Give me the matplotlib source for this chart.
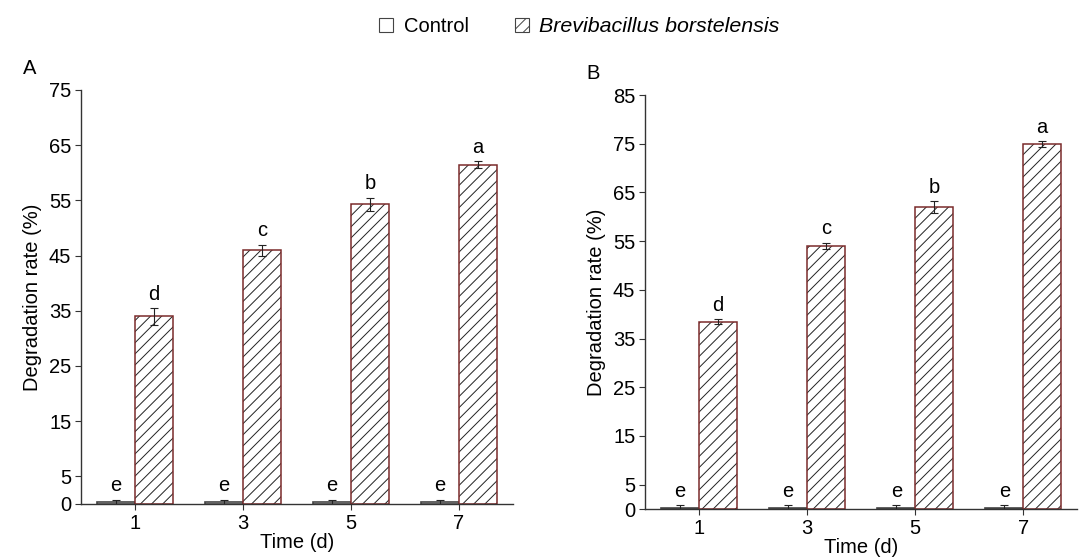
import matplotlib.pyplot as plt
import numpy as np
from matplotlib.patches import Patch

plt.rcParams['font.family'] = ['Liberation Sans', 'DejaVu Sans']
plt.rcParams['hatch.linewidth'] = 0.7

# data
days = ['1', '3', '5', '7']

control_a = [0.3, 0.3, 0.3, 0.3]
control_a_err = [0.5, 0.5, 0.5, 0.5]
treat_a = [34.0, 46.0, 54.3, 61.5]
treat_a_err = [1.5, 1.0, 1.2, 0.6]
letters_a_ctrl = ['e', 'e', 'e', 'e']
letters_a_treat = ['d', 'c', 'b', 'a']

control_b = [0.3, 0.3, 0.3, 0.3]
control_b_err = [0.5, 0.5, 0.5, 0.5]
treat_b = [38.5, 54.0, 62.0, 75.0]
treat_b_err = [0.5, 0.7, 1.2, 0.6]
letters_b_ctrl = ['e', 'e', 'e', 'e']
letters_b_treat = ['d', 'c', 'b', 'a']

yticks_a = [0, 5, 15, 25, 35, 45, 55, 65, 75]
yticks_b = [0, 5, 15, 25, 35, 45, 55, 65, 75, 85]

bar_red = '#7b2b2b'
axis_gray = '#333333'
width = 0.35
fs = 14.5


def draw_panel(ax, ctrl, ctrl_err, treat, treat_err, l_ctrl, l_treat, yticks, tag):
    x = np.arange(len(days))
    # control bars
    ax.bar(x - width / 2, ctrl, width, color='white', edgecolor='#444444', linewidth=1.2)
    # treatment bars: hatch in black, outline in dark red
    ax.bar(x + width / 2, treat, width, color='white', edgecolor='#222222', linewidth=0, hatch='///')
    ax.bar(x + width / 2, treat, width, fill=False, edgecolor=bar_red, linewidth=1.1)
    ax.errorbar(x - width / 2, ctrl, yerr=ctrl_err, fmt='none', ecolor='#222222', elinewidth=0.8, capsize=3, capthick=0.8)
    ax.errorbar(x + width / 2, treat, yerr=treat_err, fmt='none', ecolor='#222222', elinewidth=0.8, capsize=3, capthick=0.8)

    for xi, v, e, lab in zip(x - width / 2, ctrl, ctrl_err, l_ctrl):
        ax.annotate(lab, (xi, v + e), xytext=(0, 3), textcoords='offset points',
                    ha='center', va='bottom', fontsize=fs)
    for xi, v, e, lab in zip(x + width / 2, treat, treat_err, l_treat):
        ax.annotate(lab, (xi, v + e), xytext=(0, 3), textcoords='offset points',
                    ha='center', va='bottom', fontsize=fs)

    ax.set_xlim(-0.5, len(days) - 0.5)
    ax.set_ylim(0, yticks[-1])
    ax.set_xticks(x)
    ax.set_xticklabels(days)
    ax.set_yticks(yticks)
    ax.tick_params(labelsize=fs, length=4, width=0.8, color=axis_gray, pad=3)
    ax.set_xlabel('Time (d)', fontsize=fs, labelpad=0)
    ax.set_ylabel('Degradation rate (%)', fontsize=fs, labelpad=5)
    for side in ['top', 'right']:
        ax.spines[side].set_visible(False)
    for side in ['left', 'bottom']:
        ax.spines[side].set_color(axis_gray)
        ax.spines[side].set_linewidth(1.0)
    ax.text(-0.135, 1.03, tag, transform=ax.transAxes, fontsize=fs, ha='left', va='bottom')


fig = plt.figure(figsize=(10.89, 5.59), dpi=100)
ax_a = fig.add_axes([0.0744, 0.0984, 0.3967, 0.7406])
ax_b = fig.add_axes([0.5923, 0.0894, 0.3970, 0.7406])

draw_panel(ax_a, control_a, control_a_err, treat_a, treat_a_err,
           letters_a_ctrl, letters_a_treat, yticks_a, 'A')
draw_panel(ax_b, control_b, control_b_err, treat_b, treat_b_err,
           letters_b_ctrl, letters_b_treat, yticks_b, 'B')

handles = [Patch(facecolor='white', edgecolor='#444444', linewidth=0.8),
           Patch(facecolor='white', edgecolor='#444444', linewidth=0.8, hatch='///')]
leg = fig.legend(handles, ['Control', 'Brevibacillus borstelensis'], loc='center',
                 bbox_to_anchor=(0.532, 0.952), ncol=2, frameon=False, fontsize=fs,
                 handlelength=0.7, handleheight=0.7, handletextpad=0.5, columnspacing=2.3)
leg.get_texts()[1].set_fontstyle('italic')
leg.get_texts()[1].set_fontsize(15.4)

fig.savefig('out.png', dpi=100)
